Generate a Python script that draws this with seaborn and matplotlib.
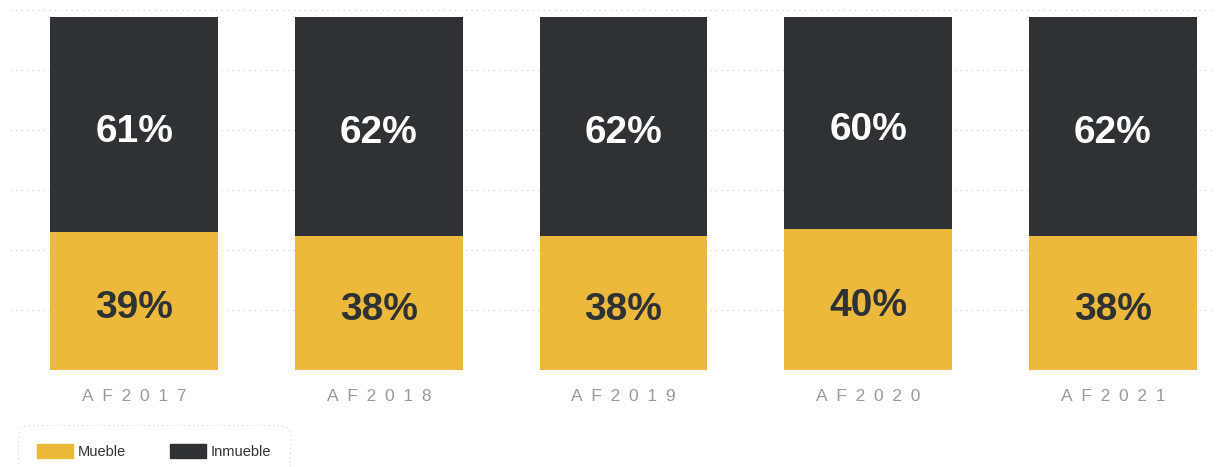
import numpy as np
import pandas as pd
import matplotlib.pyplot as plt
import seaborn as sns

# --- data ---
years = ["AF2017", "AF2018", "AF2019", "AF2020", "AF2021"]
mueble = [39, 38, 38, 40, 38]
inmueble = [61, 62, 62, 60, 62]

YELLOW = "#EDB93C"
DARK = "#2E3235"

df = pd.DataFrame({"year": years, "mueble": mueble, "inmueble": inmueble})
df["total"] = df["mueble"] + df["inmueble"]

sns.set_style("white")
plt.rcParams["font.family"] = ["Liberation Sans", "DejaVu Sans"]

fig = plt.figure(figsize=(12.25, 4.67), dpi=100)
ax = fig.add_axes([10 / 1225, 97 / 467, 1205 / 1225, 360 / 467])

# stacked: full height dark first, then yellow on top of it
sns.barplot(data=df, x="year", y="total", color=DARK, width=0.686,
            saturation=1, linewidth=0, ax=ax, zorder=2)
sns.barplot(data=df, x="year", y="mueble", color=YELLOW, width=0.686,
            saturation=1, linewidth=0, ax=ax, zorder=3)

ymax = 100 * 360 / 353
ax.set_ylim(0, ymax)
ax.set_xlim(-0.507, 4.417)

# dotted grid lines
for gy in np.linspace(0, ymax, 7):
    ax.axhline(gy, color="#c8c8c8", linewidth=0.8, linestyle=(0, (1, 4)), zorder=1)

# segment labels (nudged a little below the segment centre like the original)
for i, row in df.iterrows():
    ax.annotate(f"{row['mueble']}%", (i, row["mueble"] / 2), xytext=(0, -5),
                textcoords="offset points", ha="center", va="center",
                fontsize=28, fontweight="bold", color=DARK, zorder=4)
    ax.annotate(f"{row['inmueble']}%", (i, row["mueble"] + row["inmueble"] / 2),
                xytext=(0, -5), textcoords="offset points", ha="center",
                va="center", fontsize=28, fontweight="bold", color="white",
                zorder=4)

ax.set_xticks(range(len(years)))
ax.set_xticklabels(["\u2002".join(y) for y in years], fontsize=12.5, color="#9a9a9a")
ax.tick_params(axis="x", length=0, pad=14)
ax.set_yticks([])
ax.set_xlabel("")
ax.set_ylabel("")
sns.despine(ax=ax, left=True, bottom=True)

# legend
handles = [plt.Rectangle((0, 0), 1, 1, color=YELLOW),
           plt.Rectangle((0, 0), 1, 1, color=DARK)]
leg = fig.legend(handles, ["Mueble", "Inmueble"], loc="upper left",
                 bbox_to_anchor=(18 / 1225, 1 - 425 / 467), ncol=2,
                 fontsize=10.5, frameon=True, handlelength=2.5, handleheight=1.15,
                 handletextpad=0.3, columnspacing=3.0, borderpad=1.3,
                 borderaxespad=0, fancybox=True, labelcolor="#333333")
frame = leg.get_frame()
frame.set_boxstyle("round,pad=0,rounding_size=0.8")
frame.set_linestyle((0, (1, 3)))
frame.set_edgecolor("#c8c8c8")
frame.set_linewidth(0.8)

fig.savefig("out.png", dpi=100, facecolor="white")
